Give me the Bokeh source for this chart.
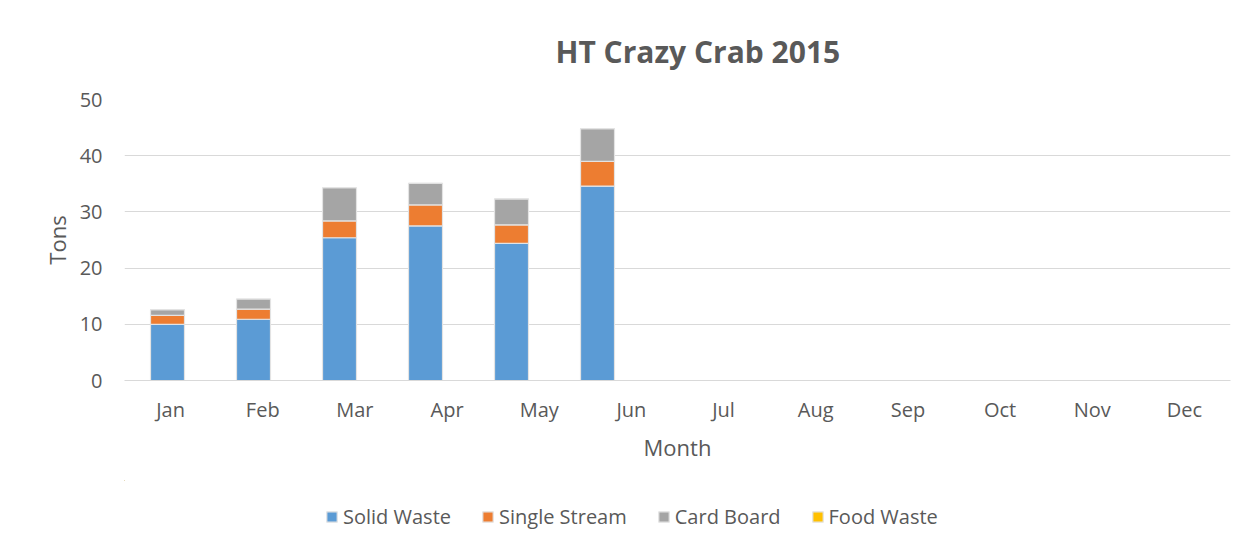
from bokeh.plotting import figure
from bokeh.layouts import column
from bokeh.models import Legend, LegendItem, Range1d, SingleIntervalTicker, FixedTicker
from bokeh.embed import file_html
from bokeh.resources import INLINE

months = ["Jan", "Feb", "Mar", "Apr", "May", "Jun", "Jul", "Aug", "Sep", "Oct", "Nov", "Dec"]
solid_waste = [10.0, 10.9, 25.4, 27.5, 24.4, 34.6, 0, 0, 0, 0, 0, 0]
single_stream = [1.6, 1.8, 3.0, 3.75, 3.3, 4.4, 0, 0, 0, 0, 0, 0]
card_board = [1.0, 1.8, 5.9, 3.85, 4.6, 5.8, 0, 0, 0, 0, 0, 0]
food_waste = [0, 0, 0, 0, 0, 0, 0, 0, 0, 0, 0, 0]
series = ["Solid Waste", "Single Stream", "Card Board", "Food Waste"]
colors = ["#5B9BD5", "#ED7D31", "#A5A5A5", "#FFC000"]

# category slot centres (index based); bars sit in slightly narrower slots than labels, as in the reference
slot_x = [i + 0.5 for i in range(len(months))]
bar_slots = 12.86

data = {"month": months, "bar_x": slot_x, "Solid Waste": solid_waste,
        "Single Stream": single_stream, "Card Board": card_board, "Food Waste": food_waste}

FONT = "Open Sans"
TXT = "#595959"
GRID = "#d9d9d9"

# ---------------- main chart ----------------
p = figure(x_range=Range1d(0, len(months)), y_range=Range1d(0, 50), width=1257, height=480,
           output_backend="svg", toolbar_location=None,
           min_border_left=124, min_border_right=27, min_border_top=99, min_border_bottom=100)
p.extra_x_ranges = {"bars": Range1d(0, bar_slots)}

p.vbar_stack(series, x="bar_x", width=0.395, source=data, color=colors,
             line_color="#e3e3e3", line_width=1.2, x_range_name="bars")

p.outline_line_color = None
p.background_fill_color = "white"
p.border_fill_color = "white"

p.xgrid.grid_line_color = None
p.ygrid.grid_line_color = GRID
p.ygrid.grid_line_width = 1

xax = p.xaxis[0]
yax = p.yaxis[0]

yax.ticker = SingleIntervalTicker(interval=10)
yax.axis_line_color = None
yax.major_tick_line_color = None
yax.minor_tick_line_color = None
yax.major_tick_out = 0
yax.major_label_standoff = 18
yax.axis_label = "Tons"
yax.axis_label_standoff = 5

xax.ticker = FixedTicker(ticks=slot_x, minor_ticks=[])
xax.major_label_overrides = {x: m for x, m in zip(slot_x, months)}
xax.axis_line_color = GRID
xax.axis_line_width = 1
xax.major_tick_line_color = None
xax.minor_tick_line_color = None
xax.major_tick_out = 0
xax.major_label_standoff = 15
xax.axis_label = "Month"
xax.axis_label_standoff = 6

for ax in (xax, yax):
    ax.major_label_text_font = FONT
    ax.major_label_text_font_size = "20px"
    ax.major_label_text_color = TXT
    ax.axis_label_text_font = FONT
    ax.axis_label_text_font_size = "22px"
    ax.axis_label_text_font_style = "normal"
    ax.axis_label_text_color = TXT

p.title.text = "HT Crazy Crab 2015"
p.title.align = "left"
p.title.offset = 431
p.title.standoff = 56
p.title.text_font = FONT
p.title.text_font_size = "30px"
p.title.text_font_style = "bold"
p.title.text_color = TXT

# ---------------- legend strip ----------------
lg = figure(x_range=Range1d(1000, 2000), y_range=Range1d(-200, -100), width=1257, height=70,
            output_backend="svg", toolbar_location=None, x_axis_location=None, y_axis_location=None,
            min_border_left=0, min_border_right=0, min_border_top=0, min_border_bottom=0)
lg.outline_line_color = None
lg.xgrid.grid_line_color = None
lg.ygrid.grid_line_color = None
lg.border_fill_color = "white"
lg_renderers = lg.vbar_stack(series, x="bar_x", width=0.395, source=data, color=colors,
                             line_color="#e3e3e3", line_width=1.2)

legend = Legend(items=[LegendItem(label=s, renderers=[r]) for s, r in zip(series, lg_renderers)],
                orientation="horizontal", location=(201, 20),
                glyph_width=13, glyph_height=13, label_standoff=5, spacing=30,
                padding=0, margin=0, border_line_color=None, background_fill_alpha=0,
                label_text_font=FONT, label_text_font_size="20px", label_text_color=TXT,
                label_height=20)
lg.add_layout(legend, "center")

layout = column(p, lg, spacing=0)
open("out.html", "w").write(file_html(layout, INLINE))
